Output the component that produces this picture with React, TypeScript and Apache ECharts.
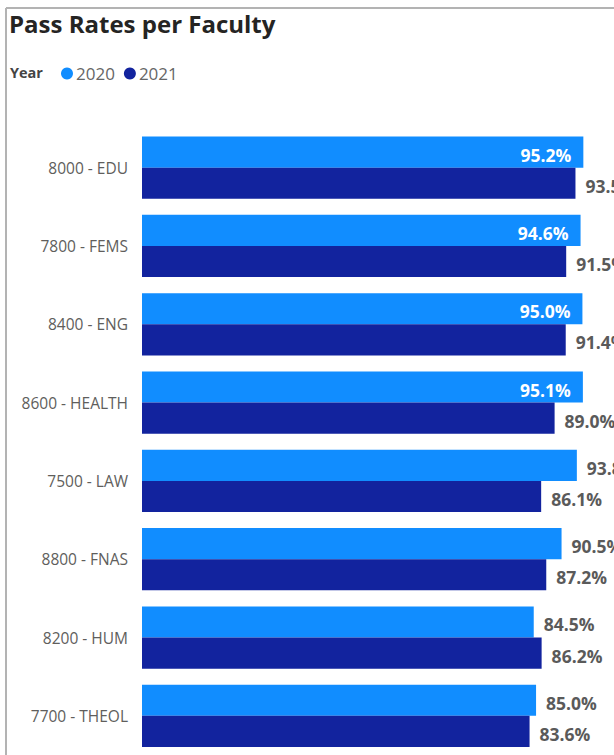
import React, { useEffect, useRef } from "react";
import * as echarts from "echarts";

const categories = [
  "8000 - EDU",
  "7800 - FEMS",
  "8400 - ENG",
  "8600 - HEALTH",
  "7500 - LAW",
  "8800 - FNAS",
  "8200 - HUM",
  "7700 - THEOL",
];
const seriesNames = ["2020", "2021"];
const values2020 = [95.2, 94.6, 95.0, 95.1, 93.8, 90.5, 84.5, 85.0];
const values2021 = [93.5, 91.5, 91.4, 89.0, 86.1, 87.2, 86.2, 83.6];
const titleText = "Pass Rates per Faculty";
const legendTitle = "Year";

const COLORS = ["#118DFF", "#12239E"];
const INSIDE_THRESHOLD = 94;
const FONT = "'Open Sans', 'Noto Sans', sans-serif";

function buildData(values: number[]) {
  return values.map((v) => {
    const inside = v >= INSIDE_THRESHOLD;
    return {
      value: v,
      label: inside
        ? { position: "insideRight", distance: 12, color: "#ffffff" }
        : { position: "right", distance: 10, color: "#5a5a5a" },
    };
  });
}

export default function App() {
  const ref = useRef<HTMLDivElement>(null);
  useEffect(() => {
    if (!ref.current) return;
    const chart = echarts.init(ref.current, undefined, { renderer: "svg" });
    const labelBase = {
      show: true,
      fontFamily: FONT,
      fontWeight: "bold",
      fontSize: 17.5,
      offset: [0, 2.5],
      formatter: (p: any) => Number(p.value).toFixed(1) + "%",
    };
    chart.setOption({
      animation: false,
      backgroundColor: "#ffffff",
      title: {
        text: titleText,
        left: 4,
        top: 6,
        textStyle: {
          fontFamily: FONT,
          fontWeight: "bold",
          fontSize: 24,
          color: "#252423",
        },
      },
      legend: {
        left: 56,
        top: 60,
        icon: "circle",
        itemWidth: 12,
        itemHeight: 12,
        itemGap: 9,
        data: seriesNames,
        textStyle: {
          fontFamily: FONT,
          fontSize: 17,
          color: "#666666",
          padding: [0, 0, 0, -2],
        },
      },
      graphic: [
        {
          type: "text",
          left: 10,
          top: 65,
          style: {
            text: legendTitle,
            fontFamily: FONT,
            fontWeight: "bold",
            fontSize: 14.5,
            fill: "#444444",
          },
        },
        {
          type: "line",
          shape: { x1: 6, y1: 8, x2: 6, y2: 755 },
          style: { stroke: "#b3b3b3", lineWidth: 2 },
        },
        {
          type: "line",
          shape: { x1: 6, y1: 8, x2: 614, y2: 8 },
          style: { stroke: "#b3b3b3", lineWidth: 2 },
        },
      ],
      grid: {
        left: 142,
        right: 8.4,
        top: 128.5,
        bottom: 0,
        containLabel: false,
      },
      xAxis: {
        type: "value",
        min: 0,
        max: 100,
        show: false,
        splitLine: { show: false },
      },
      yAxis: {
        type: "category",
        data: categories,
        inverse: true,
        axisLine: { show: false },
        axisTick: { show: false },
        axisLabel: {
          margin: 14,
          fontFamily: FONT,
          fontSize: 15.5,
          color: "#605E5C",
        },
      },
      series: [
        {
          name: seriesNames[0],
          type: "bar",
          data: buildData(values2020),
          itemStyle: { color: COLORS[0] },
          barGap: "0%",
          barCategoryGap: "20.5%",
          label: labelBase,
        },
        {
          name: seriesNames[1],
          type: "bar",
          data: buildData(values2021),
          itemStyle: { color: COLORS[1] },
          barGap: "0%",
          barCategoryGap: "20.5%",
          label: labelBase,
        },
      ],
    });
    return () => chart.dispose();
  }, []);
  return (
    <div
      ref={ref}
      style={{ position: "fixed", left: 0, top: 0, width: 614, height: 755 }}
    />
  );
}
